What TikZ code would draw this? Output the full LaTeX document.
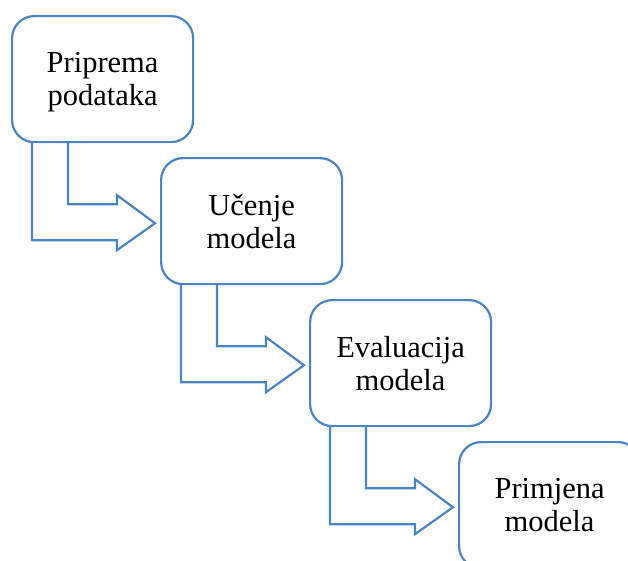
\documentclass[tikz,border=0pt]{standalone}
\usepackage{fontspec}
\setmainfont{Liberation Serif}
\usetikzlibrary{calc}
\definecolor{acc}{HTML}{4A84C4}
\tikzset{
  stagebox/.style={draw=acc, line width=2.2pt, fill=white, rounded corners=22pt,
    minimum width=181pt, minimum height=126pt, anchor=north west, inner sep=0pt,
    align=center, text depth=0pt, font=\fontsize{30.5pt}{33pt}\selectfont},
  bentarrow/.style={draw=acc, line width=2.2pt, line join=miter}
}
\newcommand{\bentarr}[1]{%
  \draw[bentarrow] ($(#1.south west)+(21,0)$) -- ($(#1.south west)+(21,97)$)
    -- ($(#1.south west)+(106,97)$) -- ($(#1.south west)+(106,107)$)
    -- ($(#1.south west)+(144,80)$) -- ($(#1.south west)+(106,52)$)
    -- ($(#1.south west)+(106,61)$) -- ($(#1.south west)+(57,61)$)
    -- ($(#1.south west)+(57,0)$);}
\begin{document}
\begin{tikzpicture}[x=1pt,y=-1pt]
\useasboundingbox (0,0) rectangle (628,560);
\clip (0,0) rectangle (628,560);
\node[stagebox] (b1) at (11,15) {Priprema\\podataka};
\node[stagebox] (b2) at (160,157) {Učenje\\modela};
\node[stagebox] (b3) at (309,299) {Evaluacija\\modela};
\node[stagebox] (b4) at (458,441) {Primjena\\modela};
\bentarr{b1}
\bentarr{b2}
\bentarr{b3}
\end{tikzpicture}
\end{document}
